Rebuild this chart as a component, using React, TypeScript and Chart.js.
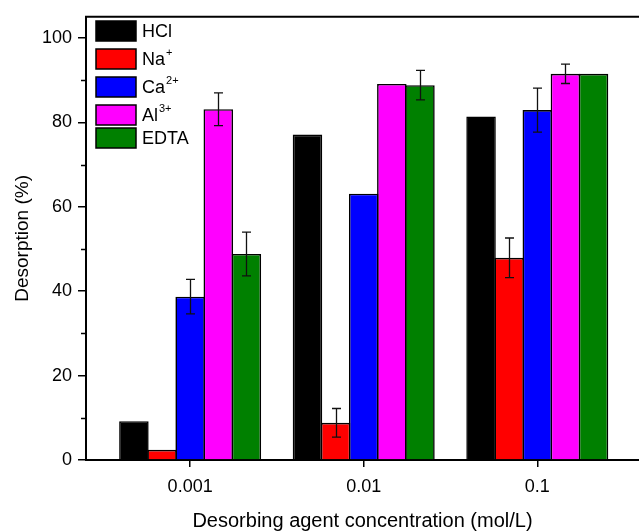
import React, { useEffect, useRef } from 'react';
import { Chart, registerables } from 'chart.js';

Chart.register(...registerables);

// ---- data ----
const concentrations = ['0.001', '0.01', '0.1'];
const seriesNames = ['HCl', 'Na', 'Ca', 'Al', 'EDTA'];
const seriesSuperscripts = ['', '+', '2+', '3+', ''];
const hclValues = [9.2, 77.1, 81.4];
const naValues = [2.4, 8.8, 47.9];
const caValues = [38.7, 63.1, 82.9];
const alValues = [83.1, 89.1, 91.5];
const edtaValues = [48.8, 88.8, 91.5];
const hclErrors = [0, 0, 0];
const naErrors = [0, 3.4, 4.7];
const caErrors = [4.1, 0, 5.2];
const alErrors = [3.9, 0, 2.3];
const edtaErrors = [5.2, 3.5, 0];
const yTickValues = [0, 20, 40, 60, 80, 100];
const yMinorTickValues = [10, 30, 50, 70, 90];

const seriesValues = [hclValues, naValues, caValues, alValues, edtaValues];
const seriesErrors = [hclErrors, naErrors, caErrors, alErrors, edtaErrors];
const seriesColors = ['#000000', '#FF0000', '#0000FF', '#FF00FF', '#008000'];

const FONT = "'Liberation Sans', Arial, Helvetica, sans-serif";

const errorBarPlugin = {
  id: 'errorBars',
  afterDatasetsDraw(chart: any) {
    const ctx = chart.ctx;
    const yScale = chart.scales.y;
    chart.data.datasets.forEach((ds: any, i: number) => {
      const meta = chart.getDatasetMeta(i);
      meta.data.forEach((bar: any, j: number) => {
        const e = ds.errors[j];
        if (!e) return;
        const v = ds.data[j].y;
        const yt = yScale.getPixelForValue(v + e);
        const yb = yScale.getPixelForValue(v - e);
        const x = Math.round(bar.x) + 0.5;
        ctx.save();
        ctx.strokeStyle = '#111';
        ctx.lineWidth = 1.3;
        ctx.beginPath();
        ctx.moveTo(x, yt);
        ctx.lineTo(x, yb);
        ctx.moveTo(x - 4.5, yt);
        ctx.lineTo(x + 4.5, yt);
        ctx.moveTo(x - 4.5, yb);
        ctx.lineTo(x + 4.5, yb);
        ctx.stroke();
        ctx.restore();
      });
    });
  },
};

const framePlugin = {
  id: 'frame',
  afterDraw(chart: any) {
    const { ctx, chartArea } = chart;
    const yScale = chart.scales.y;
    ctx.save();
    ctx.strokeStyle = '#000';
    ctx.lineWidth = 2;
    ctx.beginPath();
    ctx.moveTo(chartArea.left - 1, chartArea.top);
    ctx.lineTo(chartArea.right + 2, chartArea.top);
    ctx.stroke();
    ctx.lineWidth = 1.5;
    ctx.beginPath();
    yMinorTickValues.forEach((v) => {
      const y = Math.round(yScale.getPixelForValue(v)) + 0.5;
      ctx.moveTo(chartArea.left, y);
      ctx.lineTo(chartArea.left - 5, y);
    });
    ctx.stroke();
    ctx.restore();
  },
};

const legendPlugin = {
  id: 'customLegend',
  afterDraw(chart: any) {
    const ctx = chart.ctx;
    const rowTops = [21, 49, 77, 105, 128];
    const boxLeft = 96;
    const boxW = 40;
    const boxH = 20;
    ctx.save();
    chart.data.datasets.forEach((ds: any, i: number) => {
      const top = rowTops[i];
      ctx.fillStyle = ds.backgroundColor;
      ctx.fillRect(boxLeft, top, boxW, boxH);
      ctx.strokeStyle = '#000';
      ctx.lineWidth = 1.5;
      ctx.strokeRect(boxLeft, top, boxW, boxH);
      ctx.fillStyle = '#000';
      ctx.textBaseline = 'middle';
      ctx.textAlign = 'left';
      ctx.font = `18px ${FONT}`;
      const tx = boxLeft + boxW + 6;
      ctx.fillText(ds.label, tx, top + boxH / 2 + 1);
      if (ds.sup) {
        const w = ctx.measureText(ds.label).width;
        ctx.font = `11px ${FONT}`;
        ctx.fillText(ds.sup, tx + w + 1, top + 4);
      }
    });
    ctx.restore();
  },
};

export default function App() {
  const ref = useRef<HTMLCanvasElement>(null);

  useEffect(() => {
    document.body.style.margin = '0';
    const datasets = seriesNames.map((name, i) => ({
      label: name,
      sup: seriesSuperscripts[i],
      errors: seriesErrors[i],
      data: seriesValues[i].map((v, j) => ({ x: j, y: v })),
      backgroundColor: seriesColors[i],
      borderColor: '#000000',
      borderWidth: 1.6,
      borderSkipped: 'start',
      inflateAmount: 0,
      categoryPercentage: 0.81,
      barPercentage: 1.05,
    }));

    const chart = new Chart(ref.current as HTMLCanvasElement, {
      type: 'bar',
      data: { datasets: datasets as any },
      options: {
        animation: false,
        responsive: false,
        devicePixelRatio: 1,
        layout: { padding: { top: 10, right: 0, left: 0, bottom: 0 } },
        plugins: {
          legend: { display: false },
          tooltip: { enabled: false },
        },
        font: { family: FONT },
        scales: {
          x: {
            type: 'linear',
            min: -0.6,
            max: 2.586,
            offset: false,
            afterBuildTicks: (s: any) => {
              s.ticks = concentrations.map((_, i) => ({ value: i }));
            },
            afterFit: (s: any) => {
              s.height = 72;
            },
            grid: {
              display: true,
              offset: false,
              drawOnChartArea: false,
              drawTicks: true,
              tickLength: 7,
              color: '#000',
              lineWidth: 1.5,
            },
            border: { display: true, color: '#000', width: 2 },
            ticks: {
              callback: (v: any) => concentrations[v] ?? '',
              color: '#000',
              font: { size: 18, family: FONT },
              padding: 9,
              maxRotation: 0,
              autoSkip: false,
            },
            title: {
              display: true,
              text: 'Desorbing agent concentration (mol/L)',
              color: '#000',
              font: { size: 20, family: FONT },
              padding: { top: 0, bottom: -1 },
            },
          },
          y: {
            min: 0,
            max: 105,
            afterBuildTicks: (s: any) => {
              s.ticks = yTickValues.map((v) => ({ value: v }));
            },
            afterFit: (s: any) => {
              s.width = 86;
            },
            grid: {
              display: true,
              drawOnChartArea: false,
              drawTicks: true,
              tickLength: 8,
              color: '#000',
              lineWidth: 1.5,
            },
            border: { display: true, color: '#000', width: 2 },
            ticks: {
              color: '#000',
              font: { size: 18, family: FONT },
              padding: 6,
            },
            title: {
              display: true,
              text: 'Desorption (%)',
              color: '#000',
              font: { size: 19, family: FONT },
              padding: { top: 11, bottom: 0 },
            },
          },
        },
      } as any,
      plugins: [errorBarPlugin, framePlugin, legendPlugin],
    });
    return () => chart.destroy();
  }, []);

  return (
    <div style={{ width: 639, height: 532, position: 'relative' }}>
      <canvas ref={ref} width={639} height={532} style={{ display: 'block' }} />
    </div>
  );
}
